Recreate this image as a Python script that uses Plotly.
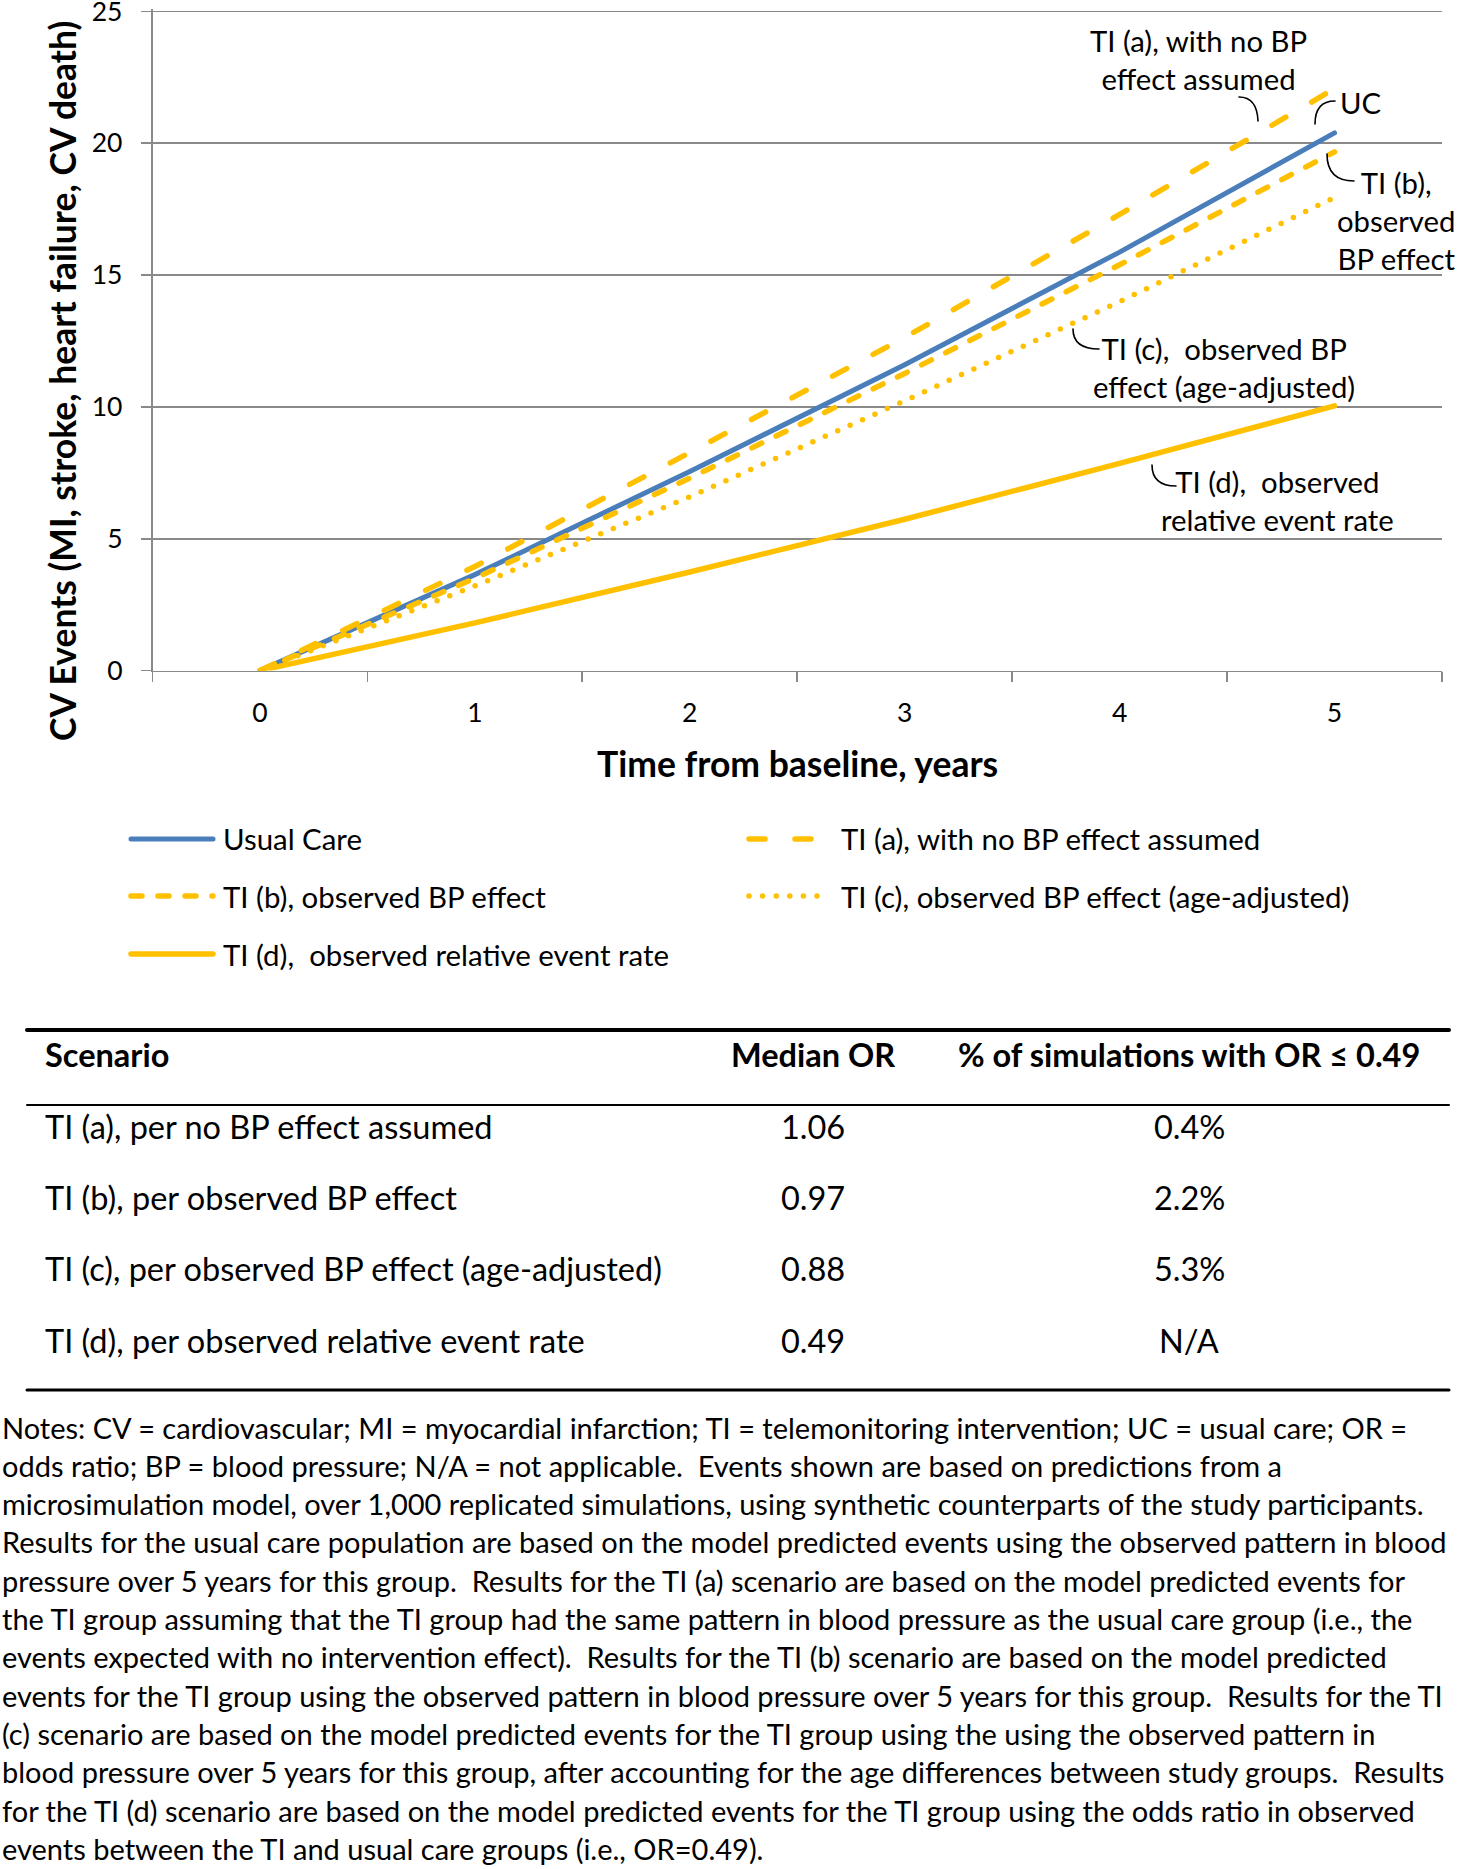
import plotly.graph_objects as go

# canvas size (px)
W, H = 1467, 1869

# ---- chart data ----
years = [0, 1, 2, 3, 4, 5]
usual_care = [0, 3.64, 7.55, 11.6, 15.87, 20.39]
ti_a = [0, 3.95, 8.27, 12.63, 17.3, 22.07]
ti_b = [0, 3.5, 7.3, 11.27, 15.39, 19.67]
ti_c = [0, 3.21, 6.59, 10.23, 13.99, 17.94]
ti_d = [0, 1.81, 3.74, 5.74, 7.86, 10.04]

legend_names = [
    "Usual Care",
    "TI (a), with no BP effect assumed",
    "TI (b), observed BP effect",
    "TI (c), observed BP effect (age-adjusted)",
    "TI (d), \u00a0observed relative event rate",
]

# ---- table data ----
table_header = ["Scenario", "Median OR", "% of simulations with OR \u2264 0.49"]
scenarios = [
    "TI (a), per no BP effect assumed",
    "TI (b), per observed BP effect",
    "TI (c), per observed BP effect (age-adjusted)",
    "TI (d), per observed relative event rate",
]
median_or = ["1.06", "0.97", "0.88", "0.49"]
pct_sims = ["0.4%", "2.2%", "5.3%", "N/A"]

notes = [
    "Notes: CV = cardiovascular; MI = myocardial infarction; TI = telemonitoring intervention; UC = usual care; OR =",
    "odds ratio; BP = blood pressure; N/A = not applicable.  Events shown are based on predictions from a",
    "microsimulation model, over 1,000 replicated simulations, using synthetic counterparts of the study participants.",
    "Results for the usual care population are based on the model predicted events using the observed pattern in blood",
    "pressure over 5 years for this group.  Results for the TI (a) scenario are based on the model predicted events for",
    "the TI group assuming that the TI group had the same pattern in blood pressure as the usual care group (i.e., the",
    "events expected with no intervention effect).  Results for the TI (b) scenario are based on the model predicted",
    "events for the TI group using the observed pattern in blood pressure over 5 years for this group.  Results for the TI",
    "(c) scenario are based on the model predicted events for the TI group using the using the observed pattern in",
    "blood pressure over 5 years for this group, after accounting for the age differences between study groups.  Results",
    "for the TI (d) scenario are based on the model predicted events for the TI group using the odds ratio in observed",
    "events between the TI and usual care groups (i.e., OR=0.49).",
]

FONT = "Lato"
FS = 29.3        # in-chart callouts
FS_LEG = 29.4
FS_TICK = 26.5
FS_TABLE = 32.5
FS_NOTES = 29
FS_TITLE = 35.5
BLUE = "#4A7EBB"
GOLD = "#FFC000"
GRID = "#898989"


def px(x):
    return x / W


def py(y):
    return 1 - y / H


# style per series: (values, colour, width, dash)
series = [
    (usual_care, BLUE, 5, "solid"),
    (ti_a, GOLD, 5.5, "16px,30px"),
    (ti_b, GOLD, 5.5, "11px,16px"),
    (ti_c, GOLD, 5.5, "0px,13.6px"),
    (ti_d, GOLD, 5.5, "solid"),
]

fig = go.Figure()
for (vals, col, lw, dash), name in zip(series, legend_names):
    fig.add_trace(go.Scatter(x=years, y=vals, mode="lines", name=name,
                             line=dict(color=col, width=lw, dash=dash),
                             showlegend=False))

shapes = []
annotations = []

# ---- hand-built legend (two columns) ----
leg_rows = [839, 896, 954]
leg_sym = [(131, 213), (749, 822)]
leg_txt = [221, 839]
for i, ((vals, col, lw, dash), name) in enumerate(zip(series, legend_names)):
    r, c = i // 2, i % 2
    y = leg_rows[r]
    shapes.append(dict(type="line", xref="paper", yref="paper",
                       x0=px(leg_sym[c][0]), x1=px(leg_sym[c][1]), y0=py(y), y1=py(y),
                       line=dict(color=col, width=lw, dash=dash)))
    annotations.append(dict(xref="paper", yref="paper", x=px(leg_txt[c]), y=py(y),
                            xanchor="left", yanchor="middle", showarrow=False,
                            text=name, font=dict(size=FS_LEG)))

# ---- in-chart callout labels ----
callouts = [
    ("TI (a), with no BP<br>effect assumed", 1198, 60, "center"),
    ("UC", 1338, 103, "left"),
    ("TI (b),<br>observed<br>BP effect", 1396, 221, "center"),
    ("TI (c), \u00a0observed BP<br>effect (age-adjusted)", 1224, 367, "center"),
    ("TI (d), \u00a0observed<br>relative event rate", 1277, 500, "center"),
]
for txt, x, y, al in callouts:
    annotations.append(dict(xref="paper", yref="paper", x=px(x), y=py(y),
                            xanchor="left" if al == "left" else "center", yanchor="middle",
                            align=al, showarrow=False, text=txt, font=dict(size=FS)))

# leader curves (pixel coords: start, control, end)
leaders = [
    ((1239, 97), (1257, 97), (1258, 121)),
    ((1335, 101), (1315, 101), (1315, 124)),
    ((1327, 154), (1327, 181), (1354, 181)),
    ((1073, 329), (1073, 349), (1099, 349)),
    ((1152, 465), (1152, 486), (1176, 486)),
]
for (x0, y0), (xc, yc), (x1, y1) in leaders:
    path = "M %f,%f Q %f,%f %f,%f" % (px(x0), py(y0), px(xc), py(yc), px(x1), py(y1))
    shapes.append(dict(type="path", xref="paper", yref="paper", path=path,
                       line=dict(color="black", width=1.6)))

# axis titles
annotations.append(dict(xref="paper", yref="paper", x=px(797), y=py(763),
                        xanchor="center", yanchor="middle", showarrow=False,
                        text="<b>Time from baseline, years</b>", font=dict(size=FS_TITLE)))
annotations.append(dict(xref="paper", yref="paper", x=px(62), y=py(381),
                        xanchor="center", yanchor="middle", showarrow=False, textangle=-90,
                        text="<b>CV Events (MI, stroke, heart failure, CV death)</b>",
                        font=dict(size=FS_TITLE)))

# ---- table ----
rule_x = (27, 1449)
for y, lw in [(1030, 4), (1105, 2), (1390, 3)]:
    shapes.append(dict(type="line", xref="paper", yref="paper", x0=px(rule_x[0]),
                       x1=px(rule_x[1]), y0=py(y), y1=py(y), line=dict(color="black", width=lw)))

col_x = [43, 813, 1189]
col_anchor = ["left", "center", "center"]
head_y = 1054
for txt, x, a in zip(table_header, col_x, col_anchor):
    annotations.append(dict(xref="paper", yref="paper", x=px(x), y=py(head_y), xanchor=a,
                            yanchor="middle", showarrow=False, text="<b>%s</b>" % txt,
                            font=dict(size=FS_TABLE)))
row_y = [1126, 1197, 1268, 1340]
for i, y in enumerate(row_y):
    for txt, x, a in zip([scenarios[i], median_or[i], pct_sims[i]], col_x, col_anchor):
        annotations.append(dict(xref="paper", yref="paper", x=px(x), y=py(y), xanchor=a,
                                yanchor="middle", showarrow=False, text=txt,
                                font=dict(size=FS_TABLE)))

# ---- notes ----
for i, line in enumerate(notes):
    annotations.append(dict(xref="paper", yref="paper", x=px(0), y=py(1427 + i * 38.3),
                            xanchor="left", yanchor="middle", showarrow=False, text=line,
                            font=dict(size=FS_NOTES)))

# plot frame: y=0 at 670.6 px, 26.37 px per event; range nudged past 25 so the
# top gridline/tick is kept
Y0_PX, PER = 670.6, 26.37
Y_TOP = 25.1

fig.update_layout(
    width=W, height=H,
    margin=dict(l=0, r=0, t=0, b=0, autoexpand=False),
    paper_bgcolor="white", plot_bgcolor="white",
    font=dict(family=FONT, color="black", size=FS),
    showlegend=False,
    shapes=shapes,
    annotations=annotations,
    xaxis=dict(type="category", domain=[px(152.5), px(1442)], range=[-0.5, 5.5],
               automargin=False,
               tickson="boundaries", ticks="outside", ticklen=10, tickwidth=1.7,
               tickcolor=GRID, showline=True, linecolor=GRID, linewidth=1.7,
               showgrid=False, zeroline=False, tickfont=dict(size=FS_TICK),
               ticklabelstandoff=18),
    yaxis=dict(domain=[py(Y0_PX), py(Y0_PX - Y_TOP * PER)], range=[0, Y_TOP],
               automargin=False,
               tickvals=[0, 5, 10, 15, 20, 25], ticklabeloverflow="allow",
               ticks="outside", ticklen=10, tickwidth=1.7, tickcolor=GRID,
               showline=True, linecolor=GRID, linewidth=1.7,
               showgrid=True, gridcolor=GRID, gridwidth=1.7, zeroline=False,
               tickfont=dict(size=FS_TICK), ticklabelstandoff=13),
)

# round line caps like the original (dashes and dots); no page margin/scrollbars
page_css = ("var s=document.createElement('style');"
            "s.textContent='html,body{margin:0 !important;padding:0;overflow:hidden;}"
            ".js-line,.shapelayer path{stroke-linecap:round !important;}';"
            "document.head.appendChild(s);")

fig.write_html("out.html", post_script=page_css,
               config={"displayModeBar": False, "staticPlot": True})
